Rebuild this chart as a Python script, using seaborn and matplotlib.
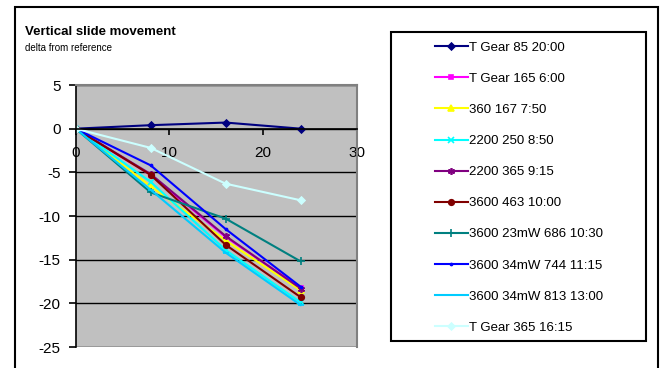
import matplotlib
matplotlib.use("Agg")
import matplotlib.pyplot as plt
import seaborn as sns
import pandas as pd
from matplotlib.patches import Rectangle

plt.rcParams['font.family'] = ['Liberation Sans', 'DejaVu Sans']
plt.rcParams['axes.unicode_minus'] = False

# hours from reference
hours = [0, 8, 16, 24]

# series
labels = ["T Gear 85 20:00", "T Gear 165 6:00", "360 167 7:50", "2200 250 8:50",
          "2200 365 9:15", "3600 463 10:00", "3600 23mW 686 10:30",
          "3600 34mW 744 11:15", "3600 34mW 813 13:00", "T Gear 365 16:15"]
tgear_85 = [0, 0.4, 0.7, 0.0]
tgear_165 = [0, -5.3, -12.4, -18.2]
s360_167 = [0, -6.6, -12.8, -18.5]
s2200_250 = [0, -6.1, -13.9, -19.9]
s2200_365 = [0, -5.2, -12.3, -18.3]
s3600_463 = [0, -5.3, -13.3, -19.3]
s3600_686 = [0, -7.3, -10.3, -15.2]
s3600_744 = [0, -4.2, -11.5, -18.1]
s3600_813 = [0, -7.0, -14.2, -20.2]
tgear_365 = [0, -2.2, -6.3, -8.2]
series = [tgear_85, tgear_165, s360_167, s2200_250, s2200_365,
          s3600_463, s3600_686, s3600_744, s3600_813, tgear_365]

colors = ["#000080", "#FF00FF", "#FFFF00", "#00FFFF", "#800080",
          "#800000", "#008080", "#0000FF", "#00CCFF", "#CCFFFF"]
markers = ["D", "s", "^", "x", (6, 2, 0), "o", "+", ".", "_", "D"]
msizes = [3.5, 3.5, 4.5, 4.5, 5, 4, 5.5, 3, 4.5, 3.5]

fig = plt.figure(figsize=(6.61, 3.68), dpi=100)
ax = fig.add_axes([0.1145, 0.057, 0.4255, 0.712])

for lab, vals, c, m, ms in zip(labels, series, colors, markers, msizes):
    df = pd.DataFrame({"hours": hours, "delta": vals})
    sns.lineplot(data=df, x="hours", y="delta", color=c, marker=m, markersize=ms,
                 markeredgecolor=c, markerfacecolor=c, markeredgewidth=1.2,
                 linewidth=1.5, label=lab, ax=ax)

ax.set_facecolor("#C0C0C0")
ax.set_xlim(0, 30)
ax.set_ylim(-25, 5)
ax.set_yticks(range(-25, 6, 5))
ax.set_xticks([0, 10, 20, 30])
ax.grid(axis="y", color="black", linewidth=1)
ax.set_axisbelow(True)
ax.set_xlabel("")
ax.set_ylabel("")
ax.spines["bottom"].set_position(("data", 0))
ax.spines["bottom"].set_color("black")
ax.spines["bottom"].set_linewidth(1.2)
ax.spines["left"].set_color("black")
ax.spines["left"].set_linewidth(1.2)
for s in ["top", "right"]:
    ax.spines[s].set_color("#808080")
    ax.spines[s].set_linewidth(1.5)
ax.tick_params(axis="both", labelsize=11, direction="out", width=1.2)
ax.tick_params(axis="y", length=5, pad=6)
ax.tick_params(axis="x", length=4, pad=8.5)
handles, labs = ax.get_legend_handles_labels()
ax.get_legend().remove()

fig.text(0.038, 0.905, "Vertical slide movement", fontsize=9.5, fontweight="bold")
fig.text(0.038, 0.862, "delta from reference", fontsize=7)

# outer chart frame and legend frame
fig.patches.append(Rectangle((0.022, -0.05), 0.974, 1.03, transform=fig.transFigure,
                             fill=False, edgecolor="black", linewidth=1.5))
fig.patches.append(Rectangle((0.592, 0.073), 0.385, 0.84, transform=fig.transFigure,
                             fill=False, edgecolor="black", linewidth=1.5))
fig.legend(handles, labs, loc="upper left", bbox_to_anchor=(0.658, 0.887),
           frameon=False, fontsize=9.5, labelspacing=1.43, handlelength=2.5,
           handletextpad=0.05, borderpad=0, borderaxespad=0)

fig.savefig("out.png", dpi=100)
